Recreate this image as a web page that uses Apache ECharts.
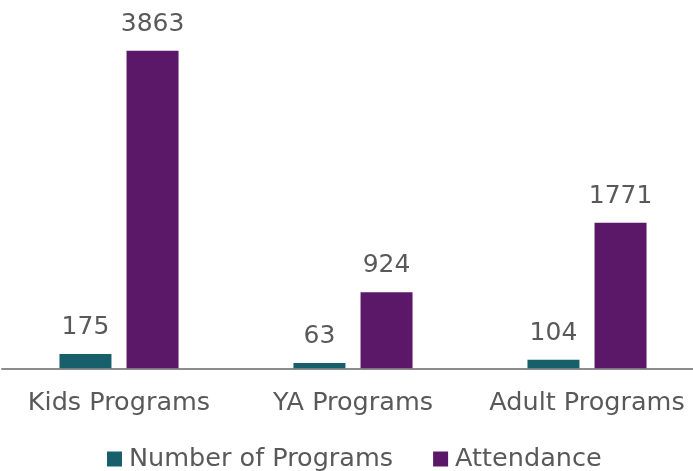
<!DOCTYPE html>
<html>
<head>
<meta charset="utf-8">
<script src="https://cdn.jsdelivr.net/npm/echarts@6/dist/echarts.min.js"></script>
<style>
  html, body { margin: 0; padding: 0; background: #fff; overflow: hidden; }
  /* 图表比窗口略宽，右侧被裁掉，与原图一致 */
  #chart { width: 704px; height: 471px; }
</style>
</head>
<body>
<div id="chart"></div>
<script>
// 数据
const categories = ['Kids Programs', 'YA Programs', 'Adult Programs']
const programCounts = [175, 63, 104]
const attendance = [3863, 924, 1771]
const seriesNames = ['Number of Programs', 'Attendance']

const textColor = '#595959'
const fontFamily = 'DejaVu Sans'

const chart = echarts.init(document.getElementById('chart'))

// 柱子上方的数值标签
const labelStyle = {
  show: true,
  position: 'top',
  distance: 14,
  color: textColor,
  fontSize: 25,
  fontFamily: fontFamily
}

const option = {
  animation: false,
  textStyle: { fontFamily: fontFamily },
  grid: {
    left: 2,
    right: 0,
    top: 39.4,
    bottom: 102.7
  },
  legend: {
    data: seriesNames,
    left: 107,
    top: 446,
    padding: 0,
    itemWidth: 15,
    itemHeight: 15,
    itemGap: 40,
    icon: 'rect',
    textStyle: {
      color: textColor,
      fontSize: 25.5,
      padding: [0, 0, 0, 2]
    }
  },
  xAxis: {
    type: 'category',
    data: categories,
    axisLine: { lineStyle: { color: '#8c8c8c', width: 2 } },
    axisTick: { show: false },
    axisLabel: {
      interval: 0,
      color: textColor,
      fontSize: 25.5,
      margin: 22
    }
  },
  yAxis: {
    type: 'value',
    min: 0,
    max: 4000,
    show: false,
    splitLine: { show: false }
  },
  series: [
    {
      name: seriesNames[0],
      type: 'bar',
      data: programCounts,
      barWidth: 52,
      barGap: '29%',
      itemStyle: { color: '#17606b' },
      label: labelStyle
    },
    {
      name: seriesNames[1],
      type: 'bar',
      data: attendance,
      barWidth: 52,
      barGap: '29%',
      itemStyle: { color: '#5c1868' },
      label: labelStyle
    }
  ]
}

chart.setOption(option)
</script>
</body>
</html>
